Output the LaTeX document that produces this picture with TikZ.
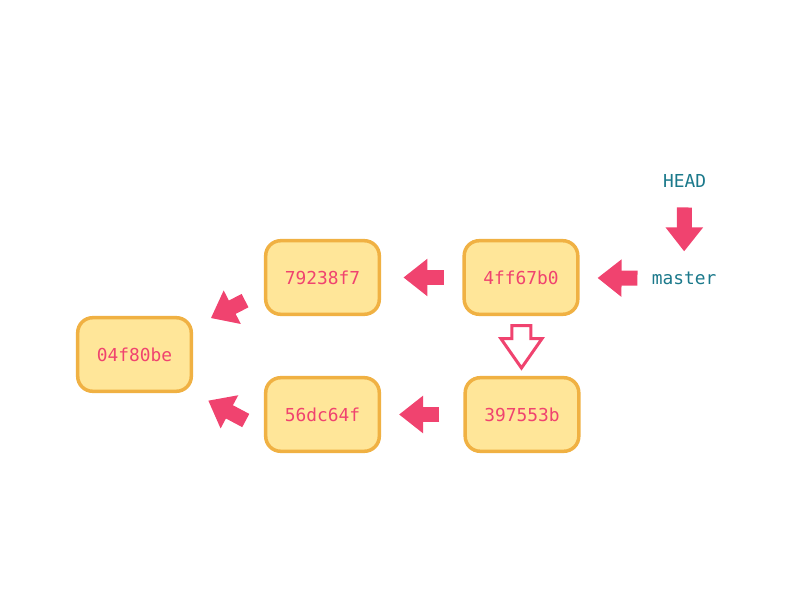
\documentclass[tikz,border=0pt]{standalone}
\usepackage{fontspec}
\setmonofont{DejaVu Sans Mono}
\usepackage{xcolor}
\usepackage{tikz}
\usetikzlibrary{arrows.meta,shapes.arrows}
\definecolor{commitFill}{HTML}{FFE699}
\definecolor{commitEdge}{HTML}{F0B143}
\definecolor{gitPink}{HTML}{F0436F}
\definecolor{refTeal}{HTML}{1B798B}

\begin{document}
\begin{tikzpicture}[
            commitbox/.style={
                draw=commitEdge,
                fill=commitFill,
                line width=0.0875cm,
                rounded corners=0.375cm,
                minimum width=2.84cm,
                minimum height=1.84cm,
                inner sep=0pt,
                text=gitPink,
                font=\ttfamily\fontsize{12.7}{15}\selectfont
            },
            refbox/.style={
                text=refTeal,
                inner sep=0.15cm,
                font=\ttfamily\fontsize{12.7}{15}\selectfont
            },
            parentarrow/.style={
                -{Triangle[width=0.9cm,length=0.6cm]},
                line width=0.375cm,
                draw=gitPink
            },
            copyarrow/.style={
                single arrow,
                draw=gitPink,
                fill=white,
                line width=0.075cm,
                inner sep=0.2cm,
                minimum height=1.06cm,
                single arrow head extend=0.275cm,
                single arrow tip angle=70
            }
        ]
        \useasboundingbox (0,0) rectangle (20,15);

        % --- Commits ---
        \node[commitbox] (root) at (3.3625,6.1375) {04f80be};
        \node[commitbox] (upA) at (8.0625,8.0625) {79238f7};
        \node[commitbox] (upB) at (13.025,8.0625) {4ff67b0};
        \node[commitbox] (lowA) at (8.0625,4.6375) {56dc64f};
        \node[commitbox] (lowB) at (13.05,4.6375) {397553b};

        % --- References ---
        \node[refbox, anchor=base] (headlabel) at (17.1125,10.31) {HEAD};
        \node[refbox, anchor=base] (master) at (17.1,7.885) {master};

        \draw[parentarrow, shorten <=0.34cm, shorten >=0.36cm] (headlabel) -- (master);
        \draw[parentarrow, shorten <=0.2cm, shorten >=0.45cm] (master) -- (upB);

        % --- Parents ---
        \draw[parentarrow, shorten <=0.47cm, shorten >=0.56cm] (upB) -- (upA);
        \draw[parentarrow, shorten <=0.6cm, shorten >=0.45cm] (lowB) -- (lowA);
        \draw[parentarrow, shorten <=0.53cm, shorten >=0.5cm] (upA.193) -- (root.25);
        \draw[parentarrow, shorten <=0.515cm, shorten >=0.43cm] (lowA.195) -- (root.327);

        \path (upB) -- node[copyarrow, rotate=-90, pos=0.4] (copytip) {} (lowB);

        \end{tikzpicture}
\end{document}
